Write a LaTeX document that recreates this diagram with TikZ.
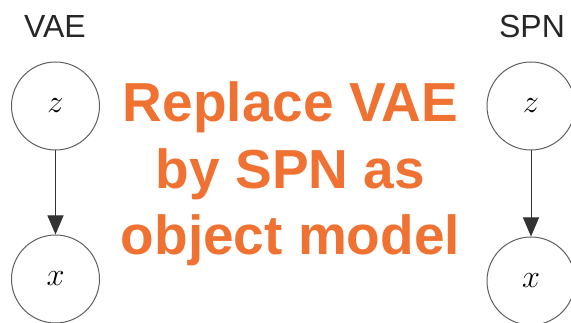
\documentclass[tikz,border=0pt]{standalone}
\usepackage{graphicx}
\usepackage{fontspec}
\setmainfont{Liberation Sans}
\usetikzlibrary{arrows.meta}
\definecolor{orng}{HTML}{EF7233}
\definecolor{ring}{HTML}{606060}
\newcommand{\bigmath}[1]{\scalebox{1.3}{$#1$}}
\tikzset{
  varnode/.style={circle, draw=ring, line width=1pt, minimum size=88pt, inner sep=0pt,
    font=\fontsize{24.88}{26}\selectfont},
  hdr/.style={anchor=base, text=black!85, inner sep=0pt, font=\fontsize{32}{38}\selectfont},
  bigline/.style={anchor=base, text=orng, inner sep=0pt, font=\bfseries\fontsize{55}{66}\selectfont},
  edge/.style={draw=black!80, line width=1pt, -{Triangle[length=19pt,width=16pt]}}
}
\begin{document}
\begin{tikzpicture}[x=1pt,y=-1pt]
\useasboundingbox (0,0) rectangle (571,323);
\node[hdr] (vae) at (55,38) {VAE};
\node[hdr] (spn) at (532,38) {SPN};
\node[varnode] (z1) at (55.5,106) {\bigmath{z}};
\node[varnode] (x1) at (55.5,279) {\bigmath{x}};
\node[varnode] (z2) at (531,106) {\bigmath{z}};
\node[varnode] (x2) at (531,281) {\bigmath{x}};
\draw[edge] (z1) -- (x1);
\draw[edge] (z2) -- (x2);
\node[bigline] (t1) at (290.5,122) {Replace VAE};
\node[bigline] (t2) at (290.5,188.5) {by SPN as};
\node[bigline] (t3) at (290.5,255) {object model};
\end{tikzpicture}
\end{document}
